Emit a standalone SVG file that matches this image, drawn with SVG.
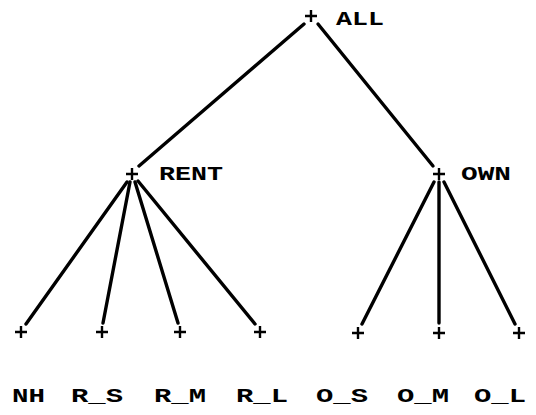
<svg xmlns="http://www.w3.org/2000/svg" width="536" height="415" viewBox="0 0 536 415">
<style>
.e{stroke:#000;stroke-width:3.4;stroke-linecap:round;fill:none}
.p{stroke:#000;stroke-width:2.4;fill:none}
text{font-family:"Liberation Mono","Courier New",monospace;font-weight:bold;font-size:20px;fill:#000}
</style>
<defs>
<path id="plus" class="p" d="M-6,0H6M0,-6V6"/>
</defs>
<g id="connectors">
<line class="e" x1="304" y1="24" x2="139" y2="166"/>
<line class="e" x1="318" y1="24" x2="433" y2="166"/>
<line class="e" x1="127" y1="182" x2="26" y2="324"/>
<line class="e" x1="130" y1="182" x2="103" y2="323"/>
<line class="e" x1="135" y1="182" x2="178" y2="323"/>
<line class="e" x1="138" y1="181" x2="255" y2="324"/>
<line class="e" x1="434" y1="182" x2="362" y2="324"/>
<line class="e" x1="439" y1="182" x2="439" y2="323"/>
<line class="e" x1="444" y1="182" x2="515" y2="324"/>
</g>
<g id="ALL"><use href="#plus" x="311" y="16"/><text x="336" y="25" textLength="48" lengthAdjust="spacingAndGlyphs">ALL</text></g>
<g id="RENT"><use href="#plus" x="132" y="174"/><text x="159" y="180" textLength="64" lengthAdjust="spacingAndGlyphs">RENT</text></g>
<g id="OWN"><use href="#plus" x="439" y="174"/><text x="461" y="180" textLength="50" lengthAdjust="spacingAndGlyphs">OWN</text></g>
<g id="NH"><use href="#plus" x="21" y="332"/><text x="12" y="402" textLength="33" lengthAdjust="spacingAndGlyphs">NH</text></g>
<g id="R_S"><use href="#plus" x="102" y="332"/><text x="71" y="402" textLength="52" lengthAdjust="spacingAndGlyphs">R_S</text></g>
<g id="R_M"><use href="#plus" x="180" y="332"/><text x="154" y="402" textLength="52" lengthAdjust="spacingAndGlyphs">R_M</text></g>
<g id="R_L"><use href="#plus" x="260" y="332"/><text x="236" y="402" textLength="52" lengthAdjust="spacingAndGlyphs">R_L</text></g>
<g id="O_S"><use href="#plus" x="358" y="333"/><text x="316" y="402" textLength="52" lengthAdjust="spacingAndGlyphs">O_S</text></g>
<g id="O_M"><use href="#plus" x="439" y="333"/><text x="397" y="402" textLength="52" lengthAdjust="spacingAndGlyphs">O_M</text></g>
<g id="O_L"><use href="#plus" x="519" y="333"/><text x="474" y="402" textLength="52" lengthAdjust="spacingAndGlyphs">O_L</text></g>
</svg>
